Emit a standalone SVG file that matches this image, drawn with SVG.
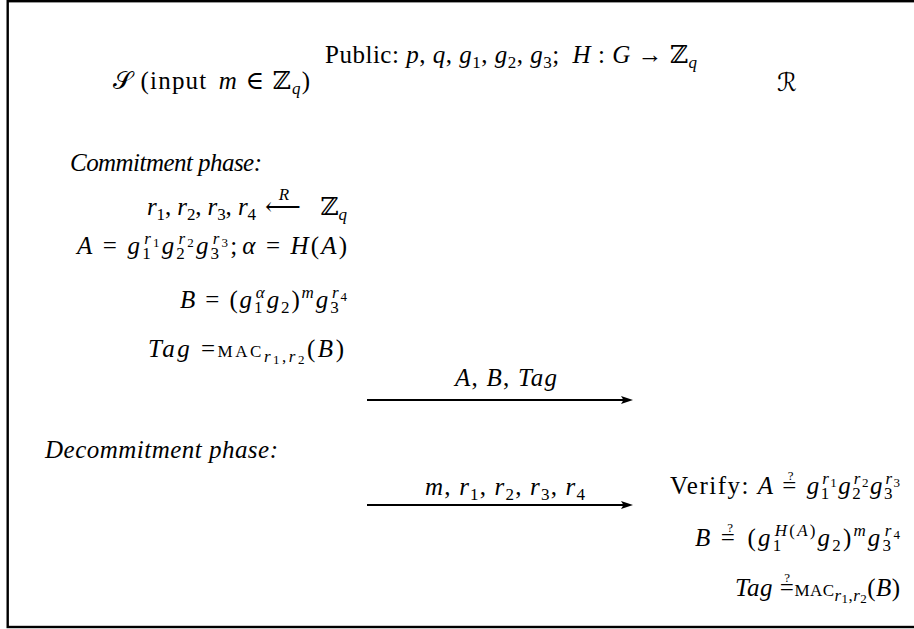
<svg xmlns="http://www.w3.org/2000/svg" width="914" height="629" viewBox="0 0 914 629">
<style>
.m{font-family:"Liberation Serif","DejaVu Serif","DejaVu Sans",serif;font-size:25px;fill:#000}
.i{font-style:italic}
.s{font-size:17px}
.ss{font-size:13px}
.sc{font-size:17px}
.cal{font-family:"DejaVu Sans","Noto Sans",serif;font-style:normal}
.edge{stroke:#000;stroke-width:2;fill:none}
</style>
<rect x="7.7" y="1.2" width="930" height="625.8" fill="#fff" stroke="#000" stroke-width="2.4"/>
<g id="header">
<text class="m" x="325" y="63" textLength="372" lengthAdjust="spacing">Public: <tspan class="i">p</tspan>, <tspan class="i">q</tspan>, <tspan class="i">g</tspan><tspan class="s" dy="5">1</tspan><tspan dy="-5">, </tspan><tspan class="i">g</tspan><tspan class="s" dy="5">2</tspan><tspan dy="-5">, </tspan><tspan class="i">g</tspan><tspan class="s" dy="5">3</tspan><tspan dy="-5">; </tspan><tspan class="i" dx="6">H</tspan> : <tspan class="i">G</tspan> → ℤ<tspan class="s i" dy="5">q</tspan></text>
</g>
<g id="sender">
<text class="m" x="113" y="89" textLength="197" lengthAdjust="spacing"><tspan class="cal">𝒮</tspan> (input <tspan class="i" dx="4">m</tspan> ∈ ℤ<tspan class="s i" dy="5">q</tspan><tspan dy="-5">)</tspan></text>
</g>
<g id="receiver">
<text class="m" x="777" y="91"><tspan class="cal">ℛ</tspan></text>
</g>
<g id="commit">
<text class="m i" x="70" y="171" textLength="192" lengthAdjust="spacing">Commitment phase:</text>
<text class="m" x="147" y="215" textLength="109" lengthAdjust="spacing"><tspan class="i">r</tspan><tspan class="s" dy="5">1</tspan><tspan dy="-5">, </tspan><tspan class="i">r</tspan><tspan class="s" dy="5">2</tspan><tspan dy="-5">, </tspan><tspan class="i">r</tspan><tspan class="s" dy="5">3</tspan><tspan dy="-5">, </tspan><tspan class="i">r</tspan><tspan class="s" dy="5">4</tspan></text>
<text class="m" x="265" y="215">⟵</text>
<text class="m i s" x="284" y="200" text-anchor="middle">R</text>
<text class="m" x="347" y="215" text-anchor="end">ℤ<tspan class="s i" dy="5">q</tspan></text>
<text class="m" x="77" y="254" textLength="270" lengthAdjust="spacing"><tspan class="i">A</tspan> = <tspan class="i">g</tspan><tspan class="s" dy="5">1</tspan><tspan class="s i" dx="-8.5" dy="-15">r</tspan><tspan class="ss" dy="3">1</tspan><tspan class="i" dy="7">g</tspan><tspan class="s" dy="5">2</tspan><tspan class="s i" dx="-8.5" dy="-15">r</tspan><tspan class="ss" dy="3">2</tspan><tspan class="i" dy="7">g</tspan><tspan class="s" dy="5">3</tspan><tspan class="s i" dx="-8.5" dy="-15">r</tspan><tspan class="ss" dy="3">3</tspan><tspan dy="7">;</tspan><tspan class="i" dx="3">α</tspan> = <tspan class="i">H</tspan>(<tspan class="i">A</tspan>)</text>
<text class="m" x="180" y="308" textLength="167" lengthAdjust="spacing"><tspan class="i">B</tspan> = (<tspan class="i">g</tspan><tspan class="s" dy="5">1</tspan><tspan class="s i" dx="-8.5" dy="-15">α</tspan><tspan class="i" dy="10">g</tspan><tspan class="s" dy="5">2</tspan><tspan dy="-5">)</tspan><tspan class="s i" dy="-10">m</tspan><tspan class="i" dy="10">g</tspan><tspan class="s" dy="5">3</tspan><tspan class="s i" dx="-8.5" dy="-15">r</tspan><tspan class="ss" dy="3">4</tspan></text>
<text class="m" x="148" y="357" textLength="196" lengthAdjust="spacing"><tspan class="i">Tag</tspan> =<tspan class="sc">MAC</tspan><tspan class="s i" dy="5">r</tspan><tspan class="ss" dy="2">1</tspan><tspan class="s" dy="-2">,</tspan><tspan class="s i">r</tspan><tspan class="ss" dy="2">2</tspan><tspan dy="-7">(</tspan><tspan class="i">B</tspan>)</text>
<text class="m i" x="45" y="458" textLength="233" lengthAdjust="spacing">Decommitment phase:</text>
</g>
<g id="verify">
<text class="m" x="670" y="494" textLength="230" lengthAdjust="spacing">Verify: <tspan class="i">A</tspan> =<tspan class="ss" dx="-10" dy="-14">?</tspan><tspan dx="4" dy="14"> </tspan><tspan class="i">g</tspan><tspan class="s" dy="5">1</tspan><tspan class="s i" dx="-8.5" dy="-15">r</tspan><tspan class="ss" dy="3">1</tspan><tspan class="i" dy="7">g</tspan><tspan class="s" dy="5">2</tspan><tspan class="s i" dx="-8.5" dy="-15">r</tspan><tspan class="ss" dy="3">2</tspan><tspan class="i" dy="7">g</tspan><tspan class="s" dy="5">3</tspan><tspan class="s i" dx="-8.5" dy="-15">r</tspan><tspan class="ss" dy="3">3</tspan></text>
<text class="m" x="695" y="546" textLength="205" lengthAdjust="spacing"><tspan class="i">B</tspan> =<tspan class="ss" dx="-10" dy="-14">?</tspan><tspan dx="4" dy="14"> </tspan>(<tspan class="i">g</tspan><tspan class="s" dy="5">1</tspan><tspan class="s i" dx="-8.5" dy="-15">H</tspan><tspan class="s">(</tspan><tspan class="s i">A</tspan><tspan class="s">)</tspan><tspan class="i" dy="10">g</tspan><tspan class="s" dy="5">2</tspan><tspan dy="-5">)</tspan><tspan class="s i" dy="-10">m</tspan><tspan class="i" dy="10">g</tspan><tspan class="s" dy="5">3</tspan><tspan class="s i" dx="-8.5" dy="-15">r</tspan><tspan class="ss" dy="3">4</tspan></text>
<text class="m" x="735" y="596" textLength="165" lengthAdjust="spacing"><tspan class="i">Tag</tspan> =<tspan class="ss" dx="-10" dy="-14">?</tspan><tspan dx="4" dy="14" class="sc">MAC</tspan><tspan class="s i" dy="5">r</tspan><tspan class="ss" dy="2">1</tspan><tspan class="s" dy="-2">,</tspan><tspan class="s i">r</tspan><tspan class="ss" dy="2">2</tspan><tspan dy="-7">(</tspan><tspan class="i">B</tspan>)</text>
</g>
<g id="connectors">
<line class="edge" x1="367" y1="400" x2="626" y2="400"/>
<path d="M621,396 L633,400 L621,404 L623.5,400 Z" fill="#000"/>
<text class="m" x="455" y="386" textLength="102" lengthAdjust="spacing"><tspan class="i">A</tspan>, <tspan class="i">B</tspan>, <tspan class="i">Tag</tspan></text>
<line class="edge" x1="367" y1="505" x2="626" y2="505"/>
<path d="M621,501 L633,505 L621,509 L623.5,505 Z" fill="#000"/>
<text class="m" x="425" y="495" textLength="160" lengthAdjust="spacing"><tspan class="i">m</tspan>, <tspan class="i">r</tspan><tspan class="s" dy="5">1</tspan><tspan dy="-5">, </tspan><tspan class="i">r</tspan><tspan class="s" dy="5">2</tspan><tspan dy="-5">, </tspan><tspan class="i">r</tspan><tspan class="s" dy="5">3</tspan><tspan dy="-5">, </tspan><tspan class="i">r</tspan><tspan class="s" dy="5">4</tspan></text>
</g>
</svg>
